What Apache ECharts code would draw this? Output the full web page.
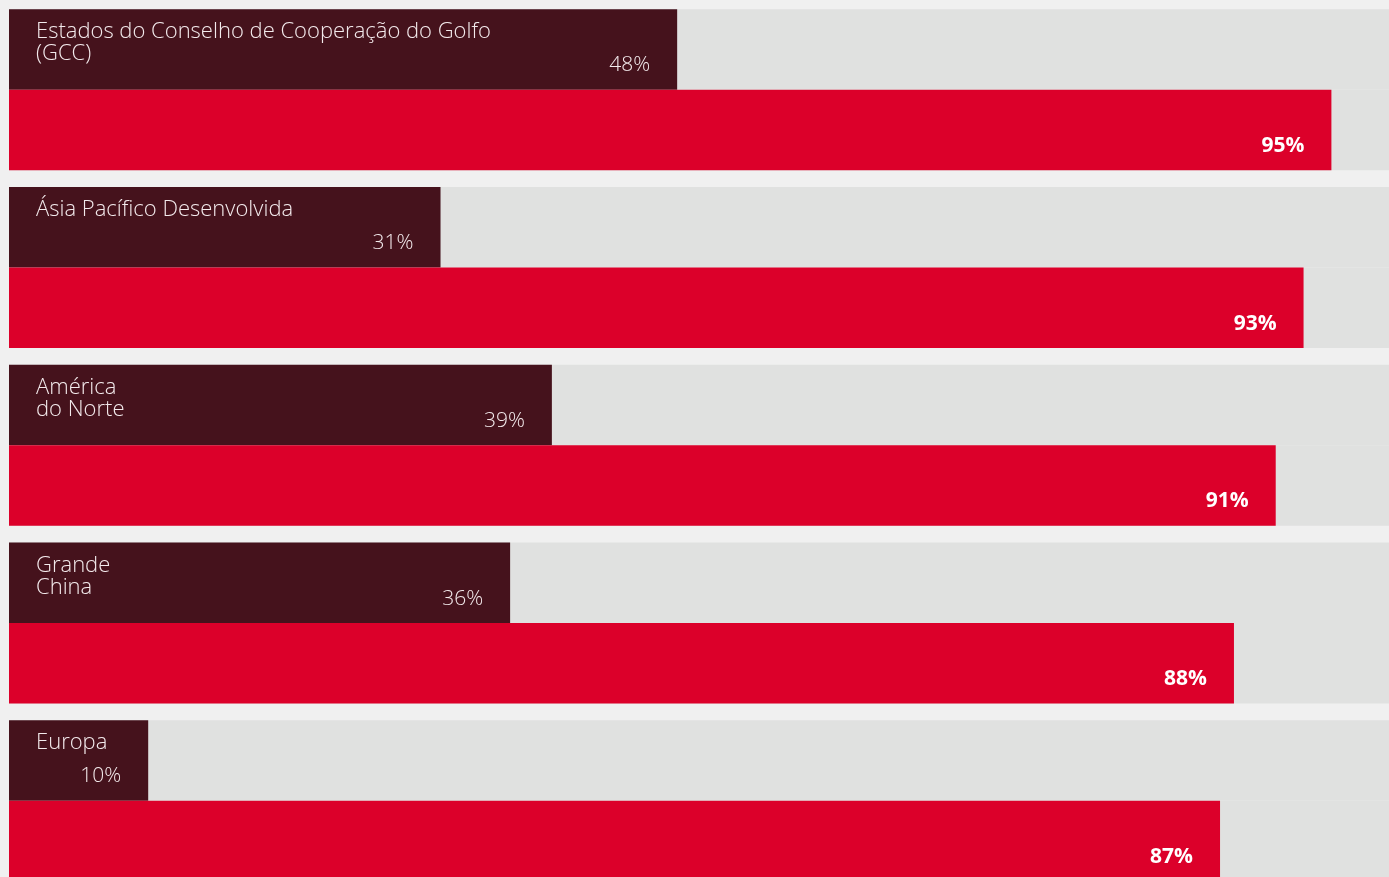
<!DOCTYPE html>
<html>
<head>
<meta charset="utf-8">
<style>
  html, body { margin: 0; padding: 0; background: #f0f0f0; }
  #chart { width: 1389px; height: 877px; }
</style>
<script src="https://cdn.jsdelivr.net/npm/echarts@6/dist/echarts.min.js"></script>
</head>
<body>
<div id="chart"></div>
<script>
// Regions, top to bottom
const regions = [
  'Estados do Conselho de Cooperação do Golfo\n(GCC)',
  'Ásia Pacífico Desenvolvida',
  'América\ndo Norte',
  'Grande\nChina',
  'Europa'
];
// Upper (dark) bar values, %
const darkValues = [48, 31, 39, 36, 10];
// Lower (red) bar values, %
const redValues = [95, 93, 91, 88, 87];

const FONT = '"Open Sans", "Noto Sans", sans-serif';
const DARK = '#45121c';
const RED = '#dc002a';
const TRACK = '#e0e1e0';
const BAR_W = 80.5;

const chart = echarts.init(document.getElementById('chart'), null, { renderer: 'canvas' });

chart.setOption({
  backgroundColor: '#f0f0f0',
  animation: false,
  grid: {
    left: 9, top: 0.75, width: 1392, height: 888.75,
    containLabel: false, outerBoundsMode: 'none'
  },
  xAxis: { type: 'value', min: 0, max: 100, show: false },
  yAxis: {
    type: 'category', data: regions, inverse: true, show: false
  },
  series: [
    {
      name: 'dark',
      type: 'bar',
      data: darkValues,
      barWidth: BAR_W,
      barGap: '0%',
      itemStyle: { color: DARK },
      showBackground: true,
      backgroundStyle: { color: TRACK },
      label: {
        show: true,
        position: 'insideRight',
        distance: 27,
        offset: [0, 16],
        formatter: p => p.value + '%',
        color: '#f3eaec',
        fontFamily: FONT,
        fontSize: 21,
        fontWeight: 300
      }
    },
    {
      name: 'red',
      type: 'bar',
      data: redValues,
      barWidth: BAR_W,
      itemStyle: { color: RED },
      showBackground: true,
      backgroundStyle: { color: TRACK },
      label: {
        show: true,
        position: 'insideRight',
        distance: 27,
        offset: [0, 16],
        formatter: p => p.value + '%',
        color: '#ffffff',
        fontFamily: FONT,
        fontSize: 21,
        fontWeight: 'bold'
      }
    },
    {
      // Region names in the top-left corner of each group
      name: 'names',
      type: 'custom',
      data: regions.map((r, i) => [0, i]),
      encode: { x: 0, y: 1 },
      z: 5,
      silent: true,
      renderItem: (params, api) => {
        const pt = api.coord([0, api.value(1)]);
        const groupTop = pt[1] - BAR_W;
        return {
          type: 'text',
          x: pt[0] + 27,
          y: groupTop + 12,
          style: {
            text: regions[params.dataIndex],
            fill: '#f3eaec',
            font: '300 22px ' + FONT,
            lineHeight: 22,
            verticalAlign: 'top',
            align: 'left'
          }
        };
      }
    }
  ]
});
</script>
</body>
</html>
